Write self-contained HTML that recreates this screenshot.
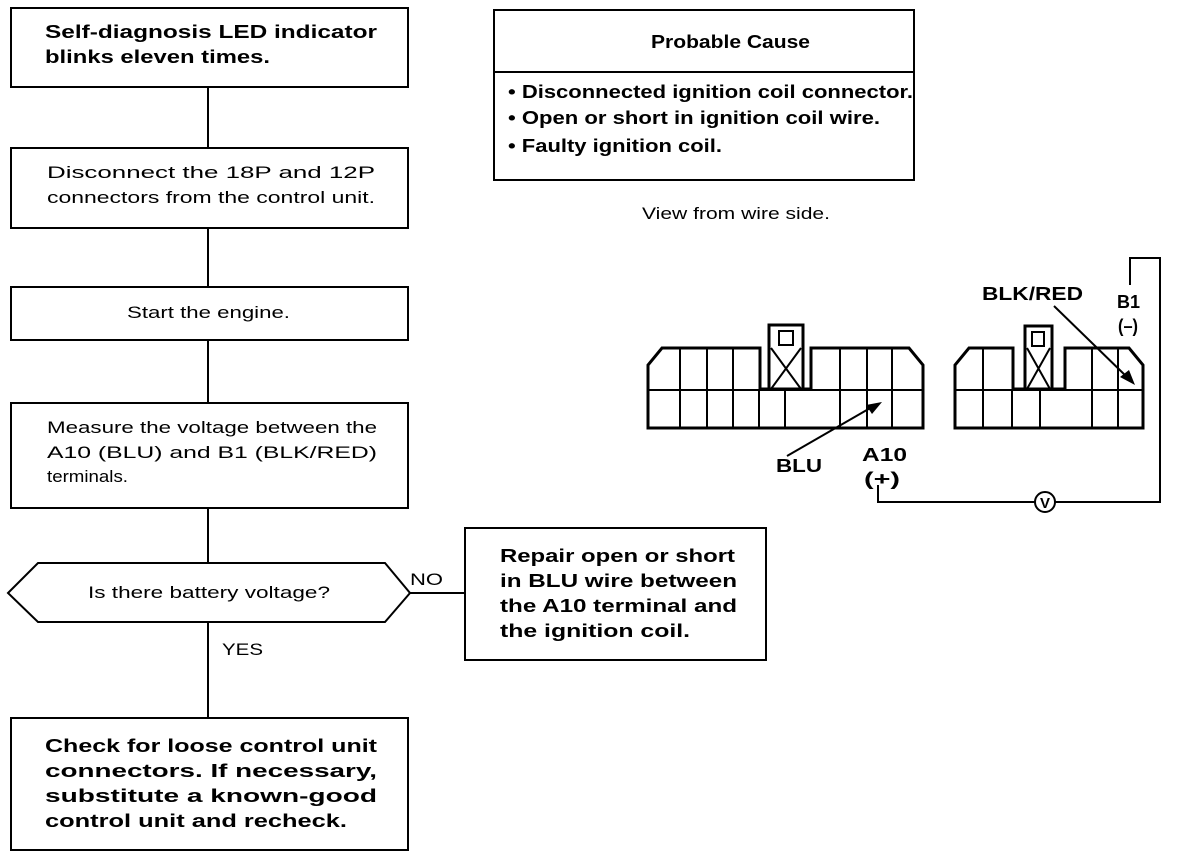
<!DOCTYPE html>
<html><head><style>html,body{margin:0;padding:0;background:#fff}svg{display:block}text{font-family:"Liberation Sans",Arial,sans-serif;fill:#000}.b{font-weight:bold;font-size:18px}.n{font-size:17px}</style></head><body>
<svg width="1200" height="858" viewBox="0 0 1200 858" xmlns="http://www.w3.org/2000/svg">
<g fill="none" stroke="#000" stroke-width="2">
<line x1="208" y1="87" x2="208" y2="147"/>
<line x1="208" y1="228" x2="208" y2="287"/>
<line x1="208" y1="340" x2="208" y2="403"/>
<line x1="208" y1="508" x2="208" y2="563"/>
<line x1="208" y1="622" x2="208" y2="718"/>
<line x1="410" y1="593" x2="465" y2="593"/>
<rect x="11" y="8" width="397" height="79"/>
<rect x="11" y="148" width="397" height="80"/>
<rect x="11" y="287" width="397" height="53"/>
<rect x="11" y="403" width="397" height="105"/>
<polygon points="8,593 38,563 385,563 410,593 385,622 38,622"/>
<rect x="11" y="718" width="397" height="132"/>
<rect x="465" y="528" width="301" height="132"/>
<rect x="494" y="10" width="420" height="170"/>
<line x1="494" y1="72" x2="914" y2="72"/>
</g>
<g stroke="#000" stroke-width="3" fill="none">
<path d="M648,428 L648,365 L662,348 L760,348 L760,389 L811,389 L811,348 L909,348 L923,365 L923,428 Z"/>
<rect x="769" y="325" width="34" height="64"/>
<path d="M955,428 L955,365 L969,348 L1013,348 L1013,389 L1065,389 L1065,348 L1129,348 L1143,365 L1143,428 Z"/>
<rect x="1025" y="326" width="27" height="63"/>
</g>
<g stroke="#000" stroke-width="2" fill="none">
<line x1="648" y1="390" x2="923" y2="390"/>
<line x1="955" y1="390" x2="1143" y2="390"/>
<path d="M680,348V428M707,348V428M733,348V428M759,390V428M785,390V428M840,348V428M867,348V428M892,348V428"/>
<path d="M983,348V428M1012,390V428M1040,390V428M1092,348V428M1118,348V428"/>
<rect x="779" y="331" width="14" height="14"/>
<path d="M771,348L801,389M801,348L771,389"/>
<rect x="1032" y="332" width="12" height="14"/>
<path d="M1027,348L1050,389M1050,348L1027,389"/>
<path d="M878,485V502H1035M1055,502H1160V258H1130V285"/>
<circle cx="1045" cy="502" r="10"/>
<line x1="787" y1="456" x2="872" y2="407"/>
<line x1="1054" y1="306" x2="1128" y2="378"/>
</g>
<polygon points="882,402 866,405 872,414" fill="#000"/>
<polygon points="1135,385 1120,377 1129,370" fill="#000"/>
<text x="1045" y="508" text-anchor="middle" font-size="15" font-weight="bold">V</text>

<text class="b" x="45" y="38" textLength="332" lengthAdjust="spacingAndGlyphs">Self-diagnosis LED indicator</text>
<text class="b" x="45" y="63" textLength="225" lengthAdjust="spacingAndGlyphs">blinks eleven times.</text>
<text class="n" x="47" y="178" textLength="328" lengthAdjust="spacingAndGlyphs">Disconnect the 18P and 12P</text>
<text class="n" x="47" y="203" textLength="328" lengthAdjust="spacingAndGlyphs">connectors from the control unit.</text>
<text class="n" x="127" y="318" textLength="163" lengthAdjust="spacingAndGlyphs">Start the engine.</text>
<text class="n" x="47" y="433" textLength="330" lengthAdjust="spacingAndGlyphs">Measure the voltage between the</text>
<text class="n" x="47" y="458" textLength="330" lengthAdjust="spacingAndGlyphs">A10 (BLU) and B1 (BLK/RED)</text>
<text class="n" x="47" y="482" textLength="81" lengthAdjust="spacingAndGlyphs">terminals.</text>
<text class="n" x="88" y="598" textLength="242" lengthAdjust="spacingAndGlyphs">Is there battery voltage?</text>
<text class="n" x="410" y="585" textLength="33" lengthAdjust="spacingAndGlyphs">NO</text>
<text class="n" x="222" y="655" textLength="41" lengthAdjust="spacingAndGlyphs">YES</text>
<text class="b" x="500" y="562" textLength="235" lengthAdjust="spacingAndGlyphs">Repair open or short</text>
<text class="b" x="500" y="587" textLength="237" lengthAdjust="spacingAndGlyphs">in BLU wire between</text>
<text class="b" x="500" y="612" textLength="237" lengthAdjust="spacingAndGlyphs">the A10 terminal and</text>
<text class="b" x="500" y="637" textLength="190" lengthAdjust="spacingAndGlyphs">the ignition coil.</text>
<text class="b" x="45" y="752" textLength="332" lengthAdjust="spacingAndGlyphs">Check for loose control unit</text>
<text class="b" x="45" y="777" textLength="332" lengthAdjust="spacingAndGlyphs">connectors. If necessary,</text>
<text class="b" x="45" y="802" textLength="332" lengthAdjust="spacingAndGlyphs" font-size="16">substitute a known-good</text>
<text class="b" x="45" y="827" textLength="302" lengthAdjust="spacingAndGlyphs">control unit and recheck.</text>
<text class="b" x="651" y="48" textLength="159" lengthAdjust="spacingAndGlyphs" font-size="17">Probable Cause</text>
<text class="b" x="508" y="98" textLength="405" lengthAdjust="spacingAndGlyphs">• Disconnected ignition coil connector.</text>
<text class="b" x="508" y="124" textLength="372" lengthAdjust="spacingAndGlyphs">• Open or short in ignition coil wire.</text>
<text class="b" x="508" y="152" textLength="214" lengthAdjust="spacingAndGlyphs">• Faulty ignition coil.</text>
<text class="n" x="642" y="219" textLength="188" lengthAdjust="spacingAndGlyphs">View from wire side.</text>
<text class="b" x="982" y="300" textLength="101" lengthAdjust="spacingAndGlyphs">BLK/RED</text>
<text class="b" x="1117" y="308" textLength="23" lengthAdjust="spacingAndGlyphs">B1</text>
<text class="b" x="1118" y="332" textLength="20" lengthAdjust="spacingAndGlyphs" font-size="15">(–)</text>
<text class="b" x="776" y="472" textLength="46" lengthAdjust="spacingAndGlyphs">BLU</text>
<text class="b" x="862" y="461" textLength="45" lengthAdjust="spacingAndGlyphs">A10</text>
<text class="b" x="864" y="485" textLength="36" lengthAdjust="spacingAndGlyphs" font-size="15">(+)</text>
</svg>
</body></html>
